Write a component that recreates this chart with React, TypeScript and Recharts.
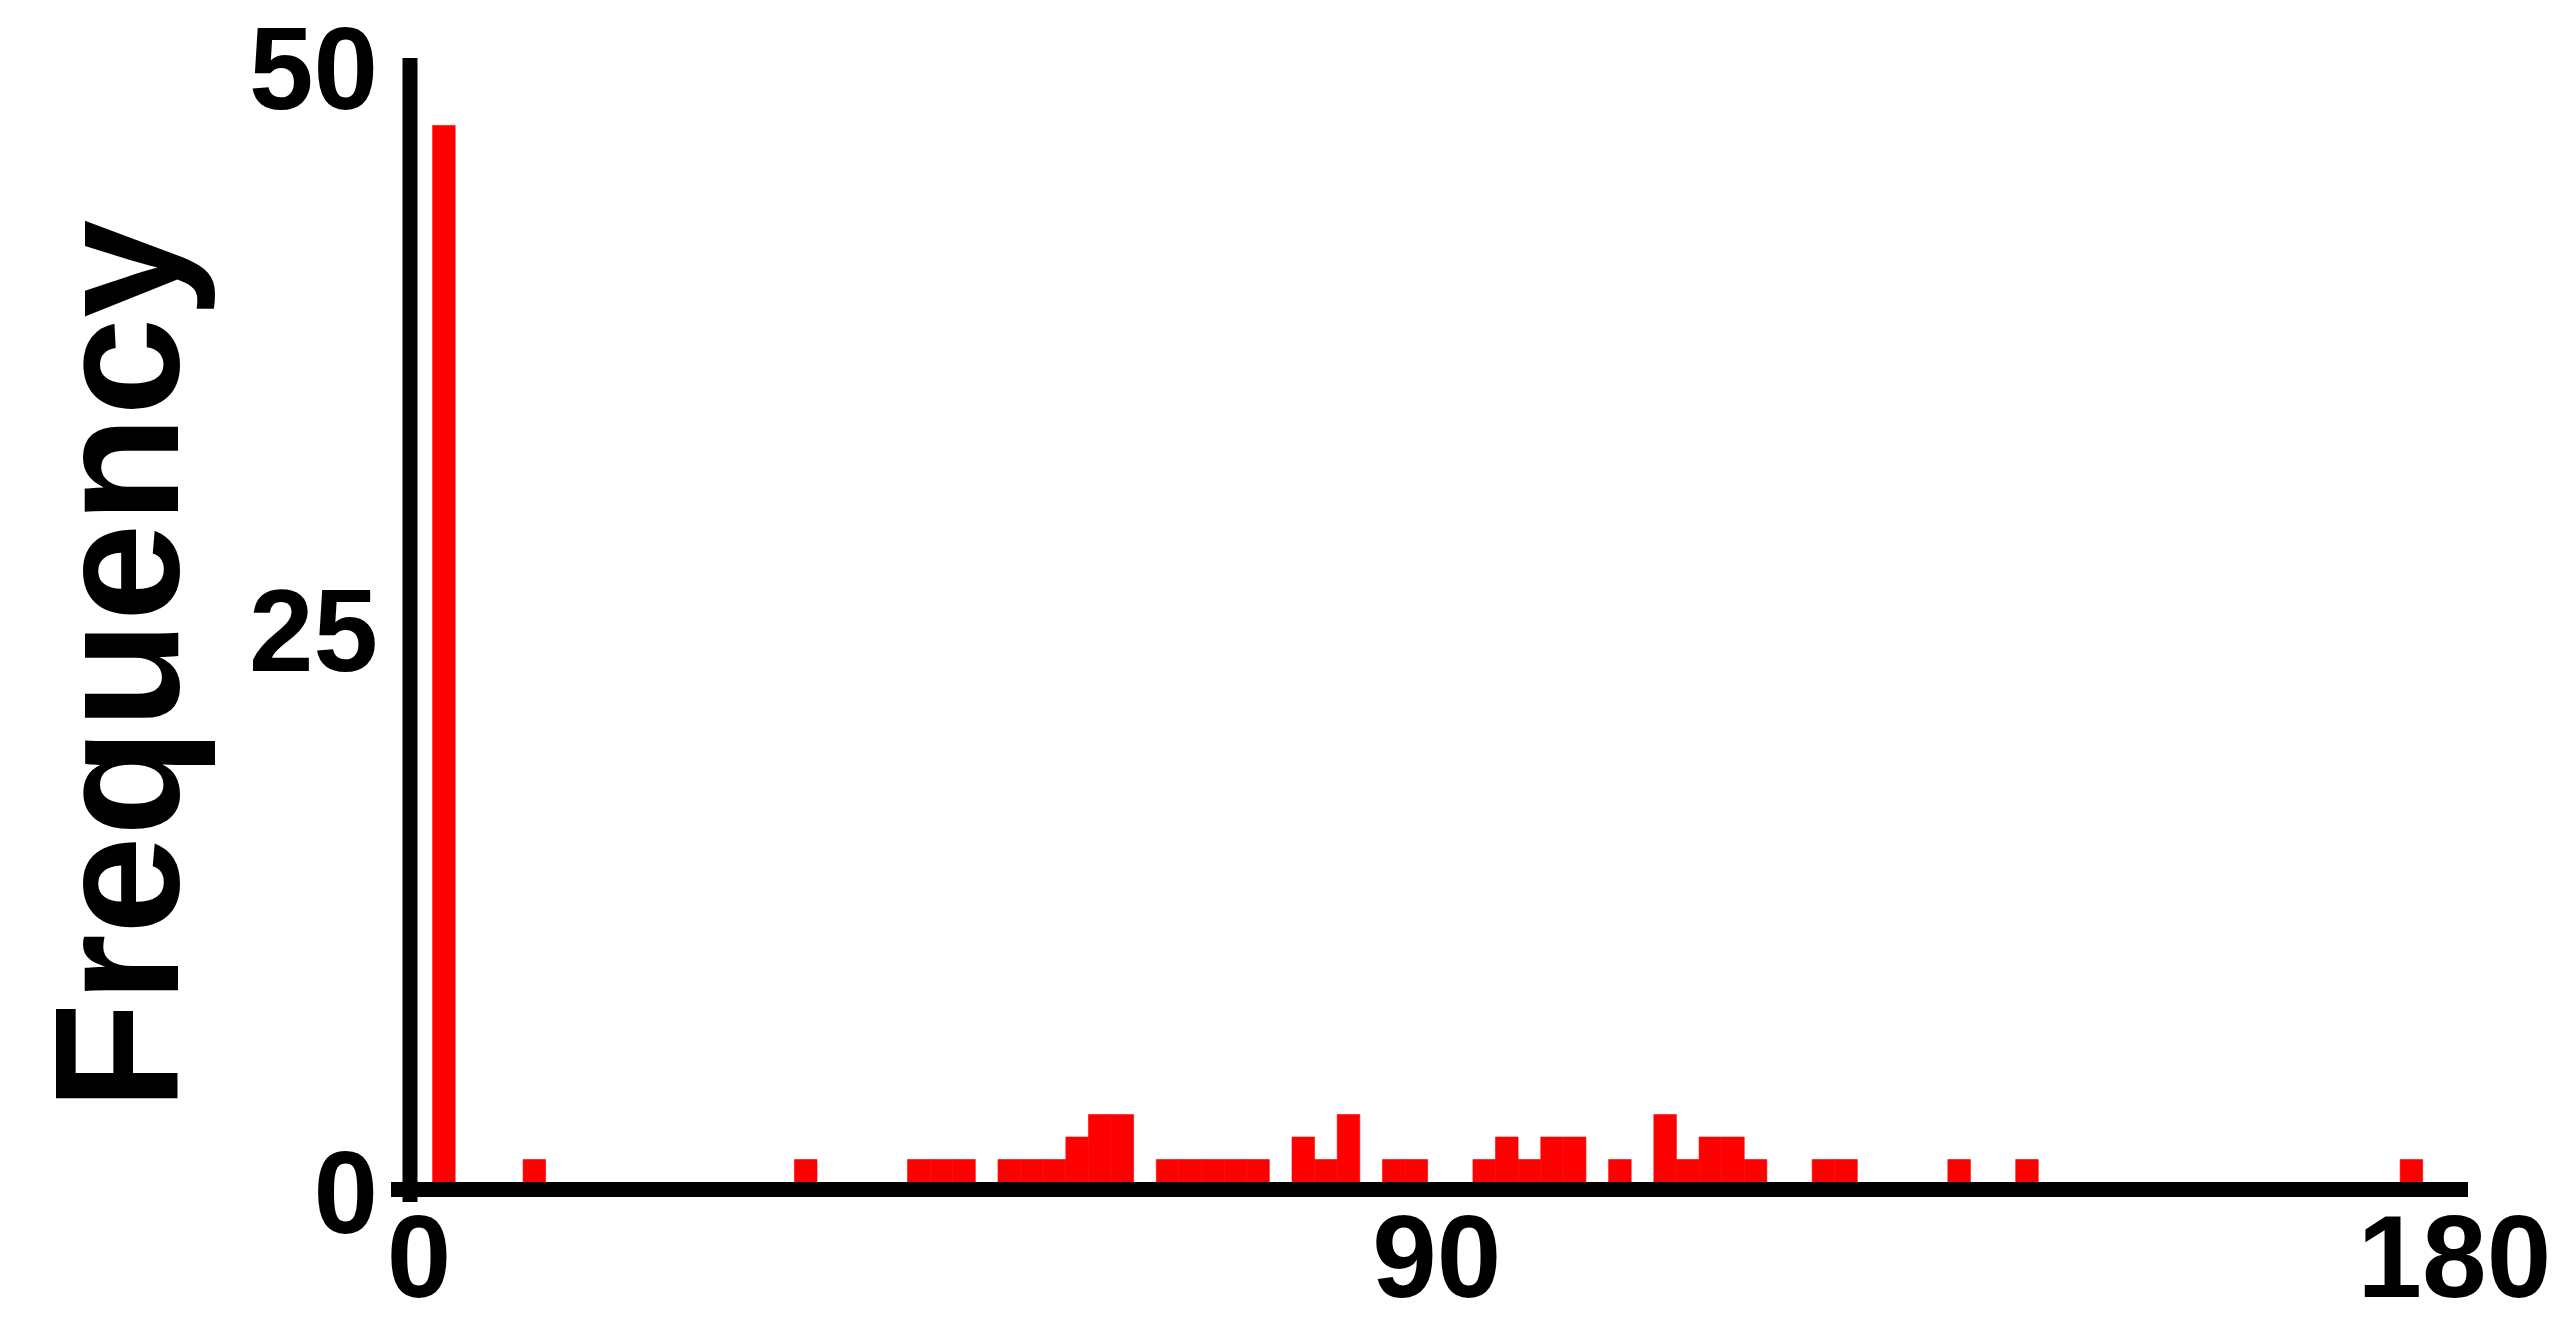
import { BarChart, Bar, XAxis, YAxis } from "recharts";

// 2° bins, each listed by its centre; empty bins are left out
const binCentres = [
  3, 11, 35, 45, 47, 49, 53, 55, 57, 59, 61, 63, 67, 69, 71, 73, 75, 79, 81,
  83, 87, 89, 95, 97, 99, 101, 103, 107, 111, 113, 115, 117, 119, 125, 127,
  137, 143, 177,
];
const counts = [
  47, 1, 1, 1, 1, 1, 1, 1, 1, 2, 3, 3, 1, 1, 1, 1, 1, 2, 1, 3, 1, 1, 1, 2, 1,
  2, 2, 1, 3, 1, 2, 2, 1, 1, 1, 1, 1, 1,
];
const xTicks = [0, 90, 180];
const yTicks = [0, 25, 50];

const data = binCentres.map((angle, i) => ({ angle, count: counts[i] }));

const W = 2561;
const H = 1321;
const PLOT_LEFT = 410;
const PLOT_RIGHT = 2468;
const PLOT_TOP = 58;
const PLOT_BOTTOM = 1189.5;
const X_MAX = 182;
const Y_MIN = -0.334; // pushes the zero line to the top edge of the thick axis
const AXIS_W = 15;
const BIN_PX = ((PLOT_RIGHT - PLOT_LEFT) / X_MAX) * 2;

const FONT = '"Liberation Sans", Arial, sans-serif';

function XTick(props: any) {
  const { x, y, payload } = props;
  return (
    <g>
      {payload.value === 0 && (
        <g stroke="#000" strokeWidth={AXIS_W}>
          <line x1={x - 19} x2={x} y1={y} y2={y} />
          <line x1={x} x2={x} y1={y} y2={y + 12.5} />
        </g>
      )}
      <text
        x={x + 9}
        y={y + 107}
        textAnchor="middle"
        fontFamily={FONT}
        fontWeight={700}
        fontSize={116}
        fill="#000"
      >
        {payload.value}
      </text>
    </g>
  );
}

function YTick(props: any) {
  const { x, y, payload } = props;
  return (
    <text
      x={x - 32}
      y={y + 51}
      textAnchor="end"
      fontFamily={FONT}
      fontWeight={700}
      fontSize={116}
      fill="#000"
    >
      {payload.value}
    </text>
  );
}

function FrequencyTitle() {
  return (
    <text
      x={178}
      y={665}
      transform="rotate(-90 178 665)"
      textAnchor="middle"
      fontFamily={FONT}
      fontWeight={700}
      fontSize={176}
      fill="#000"
    >
      Frequency
    </text>
  );
}

export default function App() {
  return (
    <div style={{ position: "absolute", left: 0, top: 0, width: W, height: H, background: "#fff" }}>
      <BarChart
        width={W}
        height={H}
        data={data}
        barCategoryGap={0}
        barGap={0}
        margin={{ top: PLOT_TOP, right: W - PLOT_RIGHT, bottom: 0, left: 0 }}
      >
        <XAxis
          type="number"
          dataKey="angle"
          domain={[0, X_MAX]}
          allowDataOverflow
          ticks={xTicks}
          interval={0}
          height={H - PLOT_BOTTOM}
          tickSize={0}
          tickMargin={0}
          tickLine={false}
          axisLine={{ stroke: "#000", strokeWidth: AXIS_W }}
          tick={(p: any) => <XTick {...p} />}
        />
        <YAxis
          type="number"
          domain={[Y_MIN, 50]}
          allowDataOverflow
          ticks={yTicks}
          interval={0}
          width={PLOT_LEFT}
          tickSize={0}
          tickMargin={0}
          tickLine={false}
          axisLine={{ stroke: "#000", strokeWidth: AXIS_W }}
          tick={(p: any) => <YTick {...p} />}
          label={<FrequencyTitle />}
        />
        {/* bar kept a hair under the bin width so recharts does not shrink it; the thin stroke closes the seams */}
        <Bar
          dataKey="count"
          fill="#ff0000"
          stroke="#ff0000"
          strokeWidth={0.6}
          barSize={BIN_PX - 0.05}
          isAnimationActive={false}
        />
      </BarChart>
    </div>
  );
}
